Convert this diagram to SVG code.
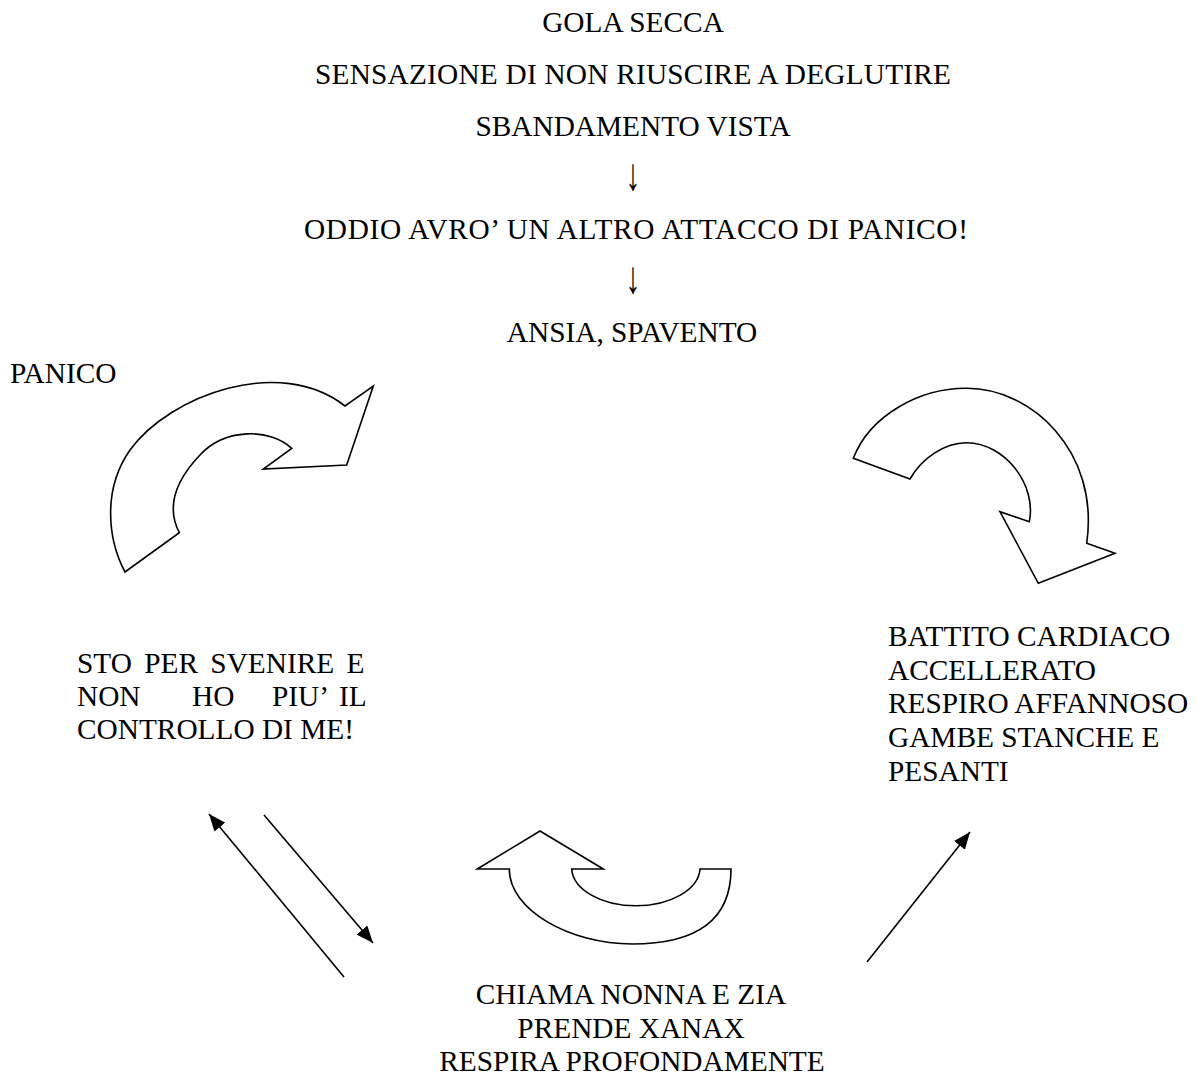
<svg xmlns="http://www.w3.org/2000/svg" width="1198" height="1075" viewBox="0 0 1198 1075">
<style>
text{font-family:"Liberation Serif","Times New Roman",serif;font-size:29.33px;fill:#000}
.c{text-anchor:middle}
.shape{fill:#fff;stroke:#000;stroke-width:1.6;stroke-linejoin:miter}
.ln{stroke:#000;stroke-width:1.6;fill:none;marker-end:url(#ah)}
</style>
<defs>
<marker id="ah" markerUnits="userSpaceOnUse" markerWidth="18" markerHeight="14" refX="17" refY="7" orient="auto">
<path d="M0,0 L17,7 L0,14 Z" fill="#000"/>
</marker>
</defs>
<rect width="1198" height="1075" fill="#fff"/>

<g id="top-chain">
<text class="c" x="633" y="32">GOLA SECCA</text>
<text class="c" x="633" y="84" textLength="636" lengthAdjust="spacing">SENSAZIONE DI NON RIUSCIRE A DEGLUTIRE</text>
<text class="c" x="633" y="136">SBANDAMENTO VISTA</text>
<text class="c" transform="translate(633,190) scale(1,1.55)">↓</text>
<text class="c" x="636" y="239" textLength="664" lengthAdjust="spacing">ODDIO AVRO’ UN ALTRO ATTACCO DI PANICO!</text>
<text class="c" transform="translate(633,293) scale(1,1.55)">↓</text>
<text class="c" x="632" y="342">ANSIA, SPAVENTO</text>
</g>

<g id="panico-label">
<text x="10" y="383">PANICO</text>
</g>

<g id="left-curved-arrow">
<path class="shape" d="M125,572 C108,540 102,490 130,450 C170,395 280,355 345,406 L373.3,386 L346.7,465 L263.3,469 L291.7,448.3 C270,428 225,428 200,455 C178,478 165,505 179.3,532.7 Z"/>
</g>

<g id="right-curved-arrow">
<path class="shape" d="M853.3,458.3 C870,415 920,388 966.7,388.3 C1030,388 1100,450 1086.7,543.3 L1115,553.3 L1038.3,583.3 L1000,511.7 L1029.3,521.7 C1037,485 1005,443 966.7,442.7 C945,442.5 922,458 910,479 Z"/>
</g>

<g id="bottom-curved-arrow">
<path class="shape" d="M477.3,869 L540,831 L603.3,869 L571.7,869 A64.2,38.3 0 0 0 700,869 L731,869 C731,925 690,944 632,944 C570,944 509,910 509.3,869 Z"/>
</g>

<g id="node-svenire">
<text x="77" y="673" word-spacing="5">STO PER SVENIRE E</text>
<text y="706"><tspan x="77">NON</tspan><tspan x="192">HO</tspan><tspan x="272">PIU’</tspan><tspan x="339">IL</tspan></text>
<text x="77" y="739">CONTROLLO DI ME!</text>
</g>

<g id="node-sintomi">
<text x="888" y="646">BATTITO CARDIACO</text>
<text x="888" y="680">ACCELLERATO</text>
<text x="888" y="713">RESPIRO AFFANNOSO</text>
<text x="888" y="747">GAMBE STANCHE E</text>
<text x="888" y="781">PESANTI</text>
</g>

<g id="node-rimedi">
<text class="c" x="631" y="1004">CHIAMA NONNA E ZIA</text>
<text class="c" x="631" y="1038">PRENDE XANAX</text>
<text class="c" x="632" y="1071">RESPIRA PROFONDAMENTE</text>
</g>

<g id="connectors">
<line class="ln" x1="344" y1="977" x2="209" y2="814"/>
<line class="ln" x1="264" y1="815" x2="373" y2="943"/>
<line class="ln" x1="867" y1="962" x2="970" y2="832"/>
</g>
</svg>
